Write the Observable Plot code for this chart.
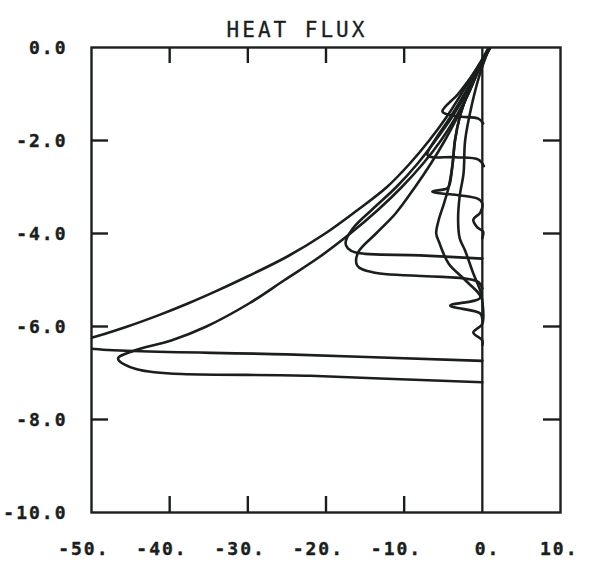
<!DOCTYPE html>
<html><head><meta charset="utf-8">
<script src="https://cdn.jsdelivr.net/npm/d3@7"></script>
<script src="https://cdn.jsdelivr.net/npm/@observablehq/plot@0.6"></script>
<style>body{margin:0;background:#fff}</style>
</head><body><div id="chart"></div>
<script>
const title = "HEAT FLUX";
const xTicks = [-50, -40, -30, -20, -10, 0, 10];
const yTicks = [0, -2, -4, -6, -8, -10];
const innerXTicks = [-40, -30, -20, -10];
const innerYTicks = [-2, -4, -6, -8];

// profile A (outermost, leaves the frame near -50)
const depthA = [0, -0.5, -1.0, -1.5, -2.0, -2.5, -3.0, -3.5, -4.0, -4.5, -5.0, -5.25, -5.5, -5.75, -6.0, -6.24, -6.36, -6.48, -6.6, -6.74];
const fluxA  = [1.0, -0.9, -2.7, -4.6, -6.8, -9.3, -12.2, -16.0, -20.1, -25.0, -31.0, -34.2, -37.6, -41.3, -45.4, -50.0, -54.0, -50.0, -25.0, 0.0];
// profile B
const depthB = [0, -0.5, -1.0, -1.5, -2.0, -2.5, -3.0, -3.5, -4.0, -4.5, -5.0, -5.5, -6.0, -6.3, -6.52, -6.69, -6.92, -7.06, -7.2];
const fluxB  = [1.0, -0.5, -1.8, -3.4, -5.3, -7.6, -10.3, -13.4, -16.9, -20.8, -25.3, -29.8, -35.3, -39.8, -44.6, -46.6, -44.2, -22.0, 0.0];
// profile 1 (front near -1.4)
const depth1 = [0, -0.5, -1.0, -1.38, -1.48, -1.53, -1.63];
const flux1  = [0.8, -0.9, -3.1, -5.1, -3.2, -0.5, 0.1];
// profile 2 (front near -2.3)
const depth2 = [0, -0.5, -1.0, -1.5, -2.0, -2.32, -2.36, -2.41, -2.55];
const flux2  = [1.0, -0.7, -2.3, -4.1, -6.1, -7.0, -3.5, -0.5, 0.2];
// profile 3 (spike near -3.1, then wiggle)
const depth3 = [0, -0.5, -1.0, -1.5, -2.0, -2.5, -2.95, -3.03, -3.1, -3.25, -3.35, -3.55, -3.7, -3.87, -3.96, -4.1];
const flux3  = [0.9, -0.6, -1.9, -2.9, -3.5, -3.8, -4.2, -4.5, -6.4, -0.6, 0.0, -0.26, -1.15, -0.64, 0.1, 0.0];
// profile P (front near -4.2)
const depthP = [0, -0.5, -1.0, -1.5, -2.0, -2.5, -3.0, -3.5, -3.9, -4.2, -4.32, -4.41, -4.47, -4.54];
const fluxP  = [1.0, -0.6, -2.1, -3.9, -6.0, -8.3, -11.0, -14.2, -16.6, -17.5, -17.2, -16.2, -8.0, 0.0];
// profile Q (front near -4.4 / -5.0)
const depthQ = [0, -0.5, -1.0, -1.5, -2.0, -2.5, -3.0, -3.57, -4.0, -4.41, -4.69, -4.84, -5.03, -5.18];
const fluxQ  = [1.0, -0.5, -1.8, -3.2, -4.8, -6.6, -8.6, -11.1, -13.6, -15.9, -16.0, -13.9, -0.64, 0.0];
// profile E (inner)
const depthE = [0, -0.5, -1.0, -1.5, -2.0, -2.5, -3.0, -3.35, -3.72, -4.0, -4.2, -4.65, -5.0, -5.38, -5.55, -5.72, -5.85];
const fluxE  = [0.9, -0.6, -1.9, -2.9, -3.5, -3.8, -4.3, -4.9, -5.6, -5.9, -5.5, -4.3, -2.2, -0.26, -4.1, -0.26, 0.0];
// profile F (innermost)
const depthF = [0, -0.56, -1.2, -2.0, -2.7, -3.2, -3.7, -4.1, -4.37, -4.86, -5.23, -5.45, -5.94, -6.13, -6.3, -6.4];
const fluxF  = [0.9, -0.3, -1.3, -2.2, -2.4, -2.9, -3.1, -2.9, -2.2, -1.15, -0.26, 0.0, 0.0, -1.15, 0.0, 0.0];

const profiles = [
  ["A", depthA, fluxA], ["B", depthB, fluxB], ["1", depth1, flux1], ["2", depth2, flux2],
  ["3", depth3, flux3], ["P", depthP, fluxP], ["Q", depthQ, fluxQ], ["E", depthE, fluxE], ["F", depthF, fluxF]
];
const rows = profiles.flatMap(([name, d, f]) => d.map((depth, i) => ({name, depth, flux: f[i]})));

const W = 597, H = 566, mL = 91, mR = 37, mT = 47, mB = 54;
const frameW = W - mL - mR, frameH = H - mT - mB;
const ink = "#1a1e1c";
const font = "'DejaVu Sans Mono', monospace";

const svg = Plot.plot({
  width: W, height: H,
  marginLeft: mL, marginRight: mR, marginTop: mT, marginBottom: mB,
  x: {domain: [-50, 10], axis: null},
  y: {domain: [-10, 0], axis: null},
  style: {background: "#fff", color: ink, overflow: "visible"},
  marks: [
    Plot.ruleX([0], {stroke: ink, strokeWidth: 2.3}),
    Plot.line(rows, {x: "flux", y: "depth", z: "name", curve: "catmull-rom", stroke: ink, strokeWidth: 2.6, clip: true}),
    Plot.tickX(innerXTicks, {x: d => d, insetBottom: frameH - 16, stroke: ink, strokeWidth: 2.4}),
    Plot.tickX(innerXTicks, {x: d => d, insetTop: frameH - 16, stroke: ink, strokeWidth: 2.4}),
    Plot.tickY(innerYTicks, {y: d => d, insetRight: frameW - 17, stroke: ink, strokeWidth: 2.4}),
    Plot.tickY(innerYTicks, {y: d => d, insetLeft: frameW - 17, stroke: ink, strokeWidth: 2.4}),
    Plot.frame({stroke: ink, strokeWidth: 2.4}),
    Plot.text(xTicks, {x: d => d, text: d => `${d}.`, frameAnchor: "bottom", dy: 42, dx: 18, textAnchor: "end",
      fontSize: 18, fontWeight: "bold", fontFamily: font, fill: ink, stroke: ink, strokeWidth: 0.4}),
    Plot.text(yTicks, {y: d => d, text: d => d.toFixed(1), frameAnchor: "left", dx: -24, dy: 1, textAnchor: "end",
      fontSize: 18, fontWeight: "bold", fontFamily: font, fill: ink, stroke: ink, strokeWidth: 0.4}),
    Plot.text([title], {frameAnchor: "top", dy: -25, dx: -29, fontSize: 21, fontFamily: font, fill: ink, stroke: ink, strokeWidth: 0.3})
  ]
});
const s = d3.select(svg);
s.selectAll("text").style("letter-spacing", "2px");
s.selectAll("text").filter(function() { return this.textContent === title; }).style("letter-spacing", "3px");
document.getElementById("chart").append(svg);
</script>
</body></html>
